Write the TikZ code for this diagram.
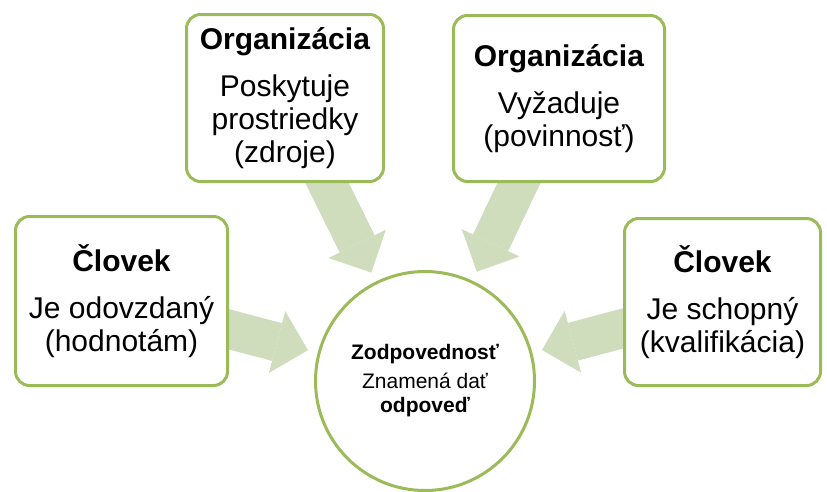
\documentclass[tikz,border=0pt]{standalone}
\usepackage{fontspec}
\setmainfont{Liberation Sans}
\usetikzlibrary{arrows.meta, positioning, backgrounds}
\definecolor{boxgreen}{HTML}{9BBB59}
\definecolor{arrowgreen}{HTML}{CFDDBD}
\tikzset{
  card/.style={draw=boxgreen, line width=3pt, rounded corners=14pt, fill=white, align=center,
    font=\fontsize{30}{33}\selectfont, inner sep=0pt},
  hub/.style={circle, draw=boxgreen, line width=3pt, fill=white, minimum size=219pt, align=center,
    font=\fontsize{21}{24}\selectfont},
  blk/.style={arrowgreen, line width=39pt, -{Triangle[length=32pt, width=64pt, line width=0pt]},
    shorten >=10pt},
}

\begin{document}
\begin{tikzpicture}[x=1pt, y=-1pt]
    \useasboundingbox (0,0) rectangle (827,491);
    \node[hub] (resp) at (425,381) {\textbf{Zodpovednosť}\\[5pt] Znamená dať\\ \textbf{odpoveď}};
    \node[card, minimum width=212pt, minimum height=169pt] (man1) at (121.5,301)
      {\textbf{Človek}\\[14pt] Je odovzdaný\\ (hodnotám)};
    \node[card, minimum width=197pt, minimum height=167pt] (org1) at (285,98)
      {\textbf{Organizácia}\\[14pt] Poskytuje\\ prostriedky\\ (zdroje)};
    \node[card, minimum width=211pt, minimum height=166pt] (org2) at (559,98.5)
      {\textbf{Organizácia}\\[14pt] Vyžaduje\\ (povinnosť)};
    \node[card, minimum width=196pt, minimum height=167pt] (man2) at (722.5,302)
      {\textbf{Človek}\\[14pt] Je schopný\\ (kvalifikácia)};
    % block arrows behind the boxes
    \begin{scope}[on background layer]
      \draw[blk] (man1.center) -- (resp);
      \draw[blk] (org1.center) -- (resp);
      \draw[blk] (org2.center) -- (resp);
      \draw[blk] (man2.center) -- (resp);
    \end{scope}
\end{tikzpicture}
\end{document}
